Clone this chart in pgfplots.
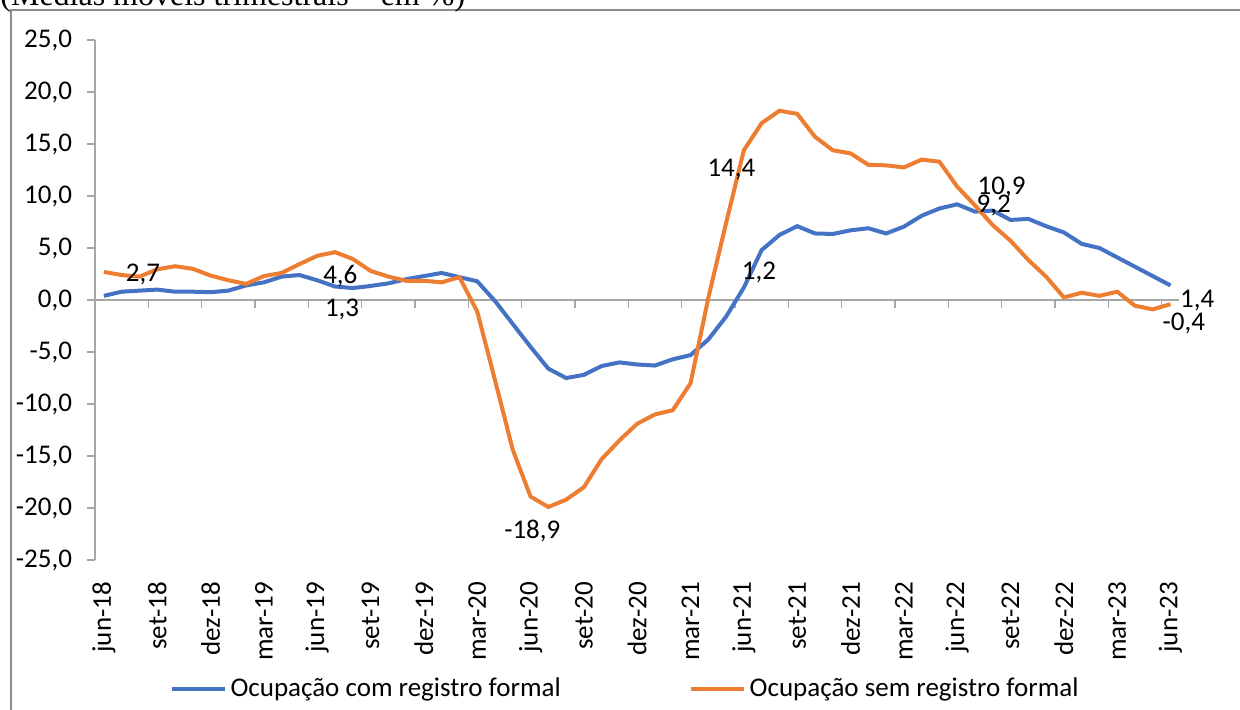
\documentclass[border=0pt]{standalone}
\usepackage{pgfplots}
\pgfplotsset{compat=1.18}
\usepackage{fontspec}
\setmainfont{Carlito}
\newfontfamily\timesf{Liberation Serif}
\definecolor{cblue}{HTML}{4472C4}
\definecolor{corange}{HTML}{ED7D31}
\pgfplotstableread{
x y
0 0.4
1 0.8
2 0.9
3 1.0
4 0.8
5 0.8
6 0.75
7 0.9
8 1.4
9 1.7
10 2.25
11 2.4
12 1.9
13 1.3
14 1.15
15 1.35
16 1.6
17 2.0
18 2.3
19 2.6
20 2.2
21 1.8
22 -0.1
23 -2.3
24 -4.5
25 -6.6
26 -7.5
27 -7.2
28 -6.35
29 -6.0
30 -6.2
31 -6.3
32 -5.7
33 -5.3
34 -3.8
35 -1.6
36 1.2
37 4.8
38 6.25
39 7.1
40 6.4
41 6.35
42 6.7
43 6.9
44 6.4
45 7.05
46 8.1
47 8.8
48 9.2
49 8.5
50 8.6
51 7.7
52 7.8
53 7.1
54 6.5
55 5.4
56 5.0
57 4.1
58 3.2
59 2.3
60 1.4
}\formal
\pgfplotstableread{
x y
0 2.7
1 2.4
2 2.25
3 2.95
4 3.25
5 3.0
6 2.35
7 1.9
8 1.55
9 2.3
10 2.6
11 3.45
12 4.25
13 4.6
14 3.95
15 2.8
16 2.25
17 1.85
18 1.85
19 1.7
20 2.2
21 -1.1
22 -7.7
23 -14.4
24 -18.9
25 -19.9
26 -19.2
27 -18.0
28 -15.3
29 -13.5
30 -11.9
31 -11.0
32 -10.6
33 -8.0
34 0.2
35 7.4
36 14.4
37 17.0
38 18.2
39 17.9
40 15.7
41 14.4
42 14.1
43 13.0
44 12.95
45 12.75
46 13.5
47 13.3
48 10.9
49 9.1
50 7.2
51 5.7
52 3.85
53 2.25
54 0.25
55 0.7
56 0.4
57 0.8
58 -0.55
59 -0.9
60 -0.4
}\informal
\begin{document}
\begin{tikzpicture}
\begin{axis}[
  name=ax, at={(0,0)}, anchor=south west,
  scale only axis, width=542.2pt, height=260pt,
  xmin=-0.5, xmax=60.5, ymin=-25, ymax=25,
  axis lines=left,
  axis line style={-, draw=black!35, line width=0.6pt},
  x axis line style={draw=none},
  ytick={-25,-20,...,25},
  yticklabels={{-25,0},{-20,0},{-15,0},{-10,0},{-5,0},{0,0},{5,0},{10,0},{15,0},{20,0},{25,0}},
  xtick={0,3,...,60},
  xticklabels={jun-18,set-18,dez-18,mar-19,jun-19,set-19,dez-19,mar-20,jun-20,set-20,dez-20,mar-21,jun-21,set-21,dez-21,mar-22,jun-22,set-22,dez-22,mar-23,jun-23},
  xtick style={draw=none},
  ytick style={draw=black!35, line width=0.6pt},
  tick align=outside, major tick length=4pt,
  tick label style={font=\fontsize{13.5}{15}\selectfont},
  x tick label style={rotate=90, anchor=east},
  xticklabel shift=3.5pt,
  yticklabel shift=4pt,
  clip=false,
  legend columns=2,
  legend style={at={(0.4897,-0.248)}, anchor=center, draw=none, fill=none,
    font=\fontsize{13.5}{15}\selectfont,
    /tikz/every even column/.append style={column sep=62pt}},
  legend image code/.code={\draw[#1] (0pt,0pt) -- (26.5pt,0pt);},
]
\draw[black!35, line width=0.6pt] (axis cs:-0.5,0) -- (axis cs:60.5,0);
\pgfplotsinvokeforeach{-0.5,2.5,5.5,8.5,11.5,14.5,17.5,20.5,23.5,26.5,29.5,32.5,35.5,38.5,41.5,44.5,47.5,50.5,53.5,56.5,59.5}{
  \draw[black!35, line width=0.6pt] (axis cs:#1,0) -- ([yshift=-4pt]axis cs:#1,0);
}
\addplot[cblue, line width=2pt] table[x=x,y=y] {\formal};
\addlegendentry{Ocupação com registro formal}
\addplot[corange, line width=2pt] table[x=x,y=y] {\informal};
\addlegendentry{Ocupação sem registro formal}
\begin{scope}[every node/.style={font=\fontsize{13.5}{15}\selectfont, inner sep=0pt}]
\node at (axis cs:2.2,2.45) {2,7};
\node at (axis cs:13.3,2.3) {4,6};
\node at (axis cs:13.4,-0.95) {1,3};
\node at (axis cs:24.1,-22.2) {-18,9};
\node at (axis cs:35.3,12.55) {14,4};
\node at (axis cs:36.85,2.65) {1,2};
\node at (axis cs:50.5,10.8) {10,9};
\node at (axis cs:50.05,9.1) {9,2};
\node at (axis cs:61.5,-0.05) {1,4};
\node at (axis cs:60.75,-2.3) {-0,4};
\end{scope}
\end{axis}
\pgfresetboundingbox
\path[use as bounding box] (-47.5pt,-74.5pt) rectangle (572.5pt,280pt);
\draw[black!45, line width=0.7pt] (-42pt,-80pt) -- (-42pt,275pt) -- (580pt,275pt);
\node[anchor=base west, inner sep=0pt, font=\timesf\fontsize{16}{18}\selectfont] at (-47.5pt,277.5pt) {(Médias móveis trimestrais – em \%)};
\end{tikzpicture}
\end{document}
